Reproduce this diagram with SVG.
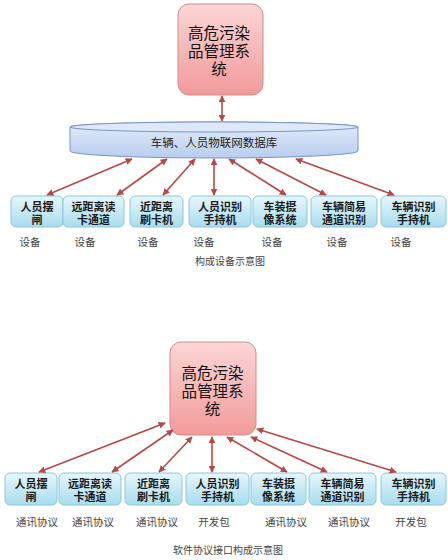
<svg xmlns="http://www.w3.org/2000/svg" width="448" height="560" viewBox="0 0 448 560">
<defs>
<linearGradient id="gPink" x1="0" y1="0" x2="0" y2="1">
<stop offset="0" stop-color="#fbd6d6"/><stop offset="1" stop-color="#f39a9a"/>
</linearGradient>
<linearGradient id="gCyan" x1="0" y1="0" x2="0" y2="1">
<stop offset="0" stop-color="#e6f7fc"/><stop offset="1" stop-color="#a9dcef"/>
</linearGradient>
<linearGradient id="gBlue" x1="0" y1="0" x2="0" y2="1">
<stop offset="0" stop-color="#e4edf9"/><stop offset="1" stop-color="#b7cdef"/>
</linearGradient>
<marker id="ah" viewBox="0 0 10 10" refX="9" refY="5" markerWidth="7" markerHeight="7" markerUnits="userSpaceOnUse" orient="auto-start-reverse">
<path d="M0,0 L10,5 L0,10 Z" fill="#b84848"/>
</marker>
</defs>
<style>
.main{fill:url(#gPink);stroke:#cf8c8c;stroke-width:1}
.dev{fill:url(#gCyan);stroke:#8ec6da;stroke-width:1}
.t{font-family:"Liberation Sans","Noto Sans CJK SC",sans-serif;text-anchor:middle}
.mt{font-size:15.5px;fill:#111}
.dt{font-size:11px;font-weight:bold;fill:#1a1a1a}
.lb{font-size:10.5px;fill:#444}
.cap{font-size:10px;fill:#444}
.ar{stroke:#b84848;stroke-width:1.6;fill:none;marker-start:url(#ah);marker-end:url(#ah)}
</style>
<rect width="448" height="560" fill="#ffffff"/>

<g id="main1">
<rect class="main" x="178" y="4" width="85" height="91" rx="11"/>
<text class="t mt"><tspan x="219" y="38.5">高危污染</tspan><tspan x="219" y="56.5">品管理系</tspan><tspan x="219" y="74.5">统</tspan></text>
</g>

<g id="db">
<path d="M70,127 A144,5 0 0,1 358,127 L358,151 A144,7 0 0,1 70,151 Z" fill="url(#gBlue)" stroke="#7a95c4" stroke-width="1"/>
<ellipse cx="214" cy="127" rx="144" ry="5" fill="#dde8f8" stroke="#7a95c4" stroke-width="1"/>
<text class="t" x="214" y="147" font-size="11.5px" fill="#222">车辆、人员物联网数据库</text>
</g>

<g id="row1">
<g id="d1a"><rect class="dev" x="11" y="196" width="52" height="31" rx="5"/><text class="t dt"><tspan x="37" y="211">人员摆</tspan><tspan x="37" y="224">闸</tspan></text></g>
<g id="d1b"><rect class="dev" x="63" y="196" width="61" height="31" rx="5"/><text class="t dt"><tspan x="93.5" y="211">远距离读</tspan><tspan x="93.5" y="224">卡通道</tspan></text></g>
<g id="d1c"><rect class="dev" x="130" y="196" width="53" height="31" rx="5"/><text class="t dt"><tspan x="156.5" y="211">近距离</tspan><tspan x="156.5" y="224">刷卡机</tspan></text></g>
<g id="d1d"><rect class="dev" x="189" y="196" width="62" height="31" rx="5"/><text class="t dt"><tspan x="220" y="211">人员识别</tspan><tspan x="220" y="224">手持机</tspan></text></g>
<g id="d1e"><rect class="dev" x="253" y="196" width="54" height="31" rx="5"/><text class="t dt"><tspan x="280" y="211">车装摄</tspan><tspan x="280" y="224">像系统</tspan></text></g>
<g id="d1f"><rect class="dev" x="311" y="196" width="66" height="31" rx="5"/><text class="t dt"><tspan x="344" y="211">车辆简易</tspan><tspan x="344" y="224">通道识别</tspan></text></g>
<g id="d1g"><rect class="dev" x="381" y="196" width="65" height="31" rx="5"/><text class="t dt"><tspan x="413.5" y="211">车辆识别</tspan><tspan x="413.5" y="224">手持机</tspan></text></g>
</g>

<g id="labels1">
<text class="t lb" x="30" y="246">设备</text>
<text class="t lb" x="85" y="246">设备</text>
<text class="t lb" x="148" y="246">设备</text>
<text class="t lb" x="204" y="246">设备</text>
<text class="t lb" x="272" y="246">设备</text>
<text class="t lb" x="337" y="246">设备</text>
<text class="t lb" x="401" y="246">设备</text>
<text class="t cap" x="230" y="264.5">构成设备示意图</text>
</g>

<g id="main2">
<rect class="main" x="170" y="342" width="86" height="93" rx="11"/>
<text class="t mt"><tspan x="212.5" y="378.5">高危污染</tspan><tspan x="212.5" y="396.5">品管理系</tspan><tspan x="212.5" y="414.5">统</tspan></text>
</g>

<g id="row2">
<g id="d2a"><rect class="dev" x="5" y="473" width="52" height="32" rx="5"/><text class="t dt"><tspan x="31" y="488">人员摆</tspan><tspan x="31" y="501">闸</tspan></text></g>
<g id="d2b"><rect class="dev" x="59" y="473" width="62" height="32" rx="5"/><text class="t dt"><tspan x="90" y="488">远距离读</tspan><tspan x="90" y="501">卡通道</tspan></text></g>
<g id="d2c"><rect class="dev" x="125" y="473" width="57" height="32" rx="5"/><text class="t dt"><tspan x="153.5" y="488">近距离</tspan><tspan x="153.5" y="501">刷卡机</tspan></text></g>
<g id="d2d"><rect class="dev" x="186" y="473" width="63" height="32" rx="5"/><text class="t dt"><tspan x="217.5" y="488">人员识别</tspan><tspan x="217.5" y="501">手持机</tspan></text></g>
<g id="d2e"><rect class="dev" x="251" y="473" width="55" height="32" rx="5"/><text class="t dt"><tspan x="278.5" y="488">车装摄</tspan><tspan x="278.5" y="501">像系统</tspan></text></g>
<g id="d2f"><rect class="dev" x="309" y="473" width="67" height="32" rx="5"/><text class="t dt"><tspan x="342.5" y="488">车辆简易</tspan><tspan x="342.5" y="501">通道识别</tspan></text></g>
<g id="d2g"><rect class="dev" x="381" y="473" width="65" height="32" rx="5"/><text class="t dt"><tspan x="413.5" y="488">车辆识别</tspan><tspan x="413.5" y="501">手持机</tspan></text></g>
</g>

<g id="labels2">
<text class="t lb" x="37" y="526">通讯协议</text>
<text class="t lb" x="93" y="526">通讯协议</text>
<text class="t lb" x="157" y="526">通讯协议</text>
<text class="t lb" x="214" y="526">开发包</text>
<text class="t lb" x="286" y="526">通讯协议</text>
<text class="t lb" x="349" y="526">通讯协议</text>
<text class="t lb" x="411" y="526">开发包</text>
<text class="t cap" x="228" y="553.5">软件协议接口构成示意图</text>
</g>

<g id="connectors">
<line class="ar" x1="222" y1="96" x2="222" y2="121"/>
<line class="ar" x1="132" y1="159" x2="47" y2="195"/>
<line class="ar" x1="167" y1="159" x2="117" y2="195"/>
<line class="ar" x1="195" y1="159" x2="163" y2="195"/>
<line class="ar" x1="214" y1="159" x2="214" y2="195"/>
<line class="ar" x1="229" y1="159" x2="286" y2="195"/>
<line class="ar" x1="256" y1="159" x2="326" y2="195"/>
<line class="ar" x1="296" y1="159" x2="394" y2="195"/>

<line class="ar" x1="165" y1="423" x2="39" y2="472"/>
<line class="ar" x1="173" y1="430" x2="112" y2="472"/>
<line class="ar" x1="192" y1="437" x2="159" y2="472"/>
<line class="ar" x1="212" y1="437" x2="212" y2="472"/>
<line class="ar" x1="227" y1="437" x2="287" y2="472"/>
<line class="ar" x1="251" y1="437" x2="327" y2="472"/>
<line class="ar" x1="257" y1="429" x2="396" y2="472"/>
</g>
</svg>
